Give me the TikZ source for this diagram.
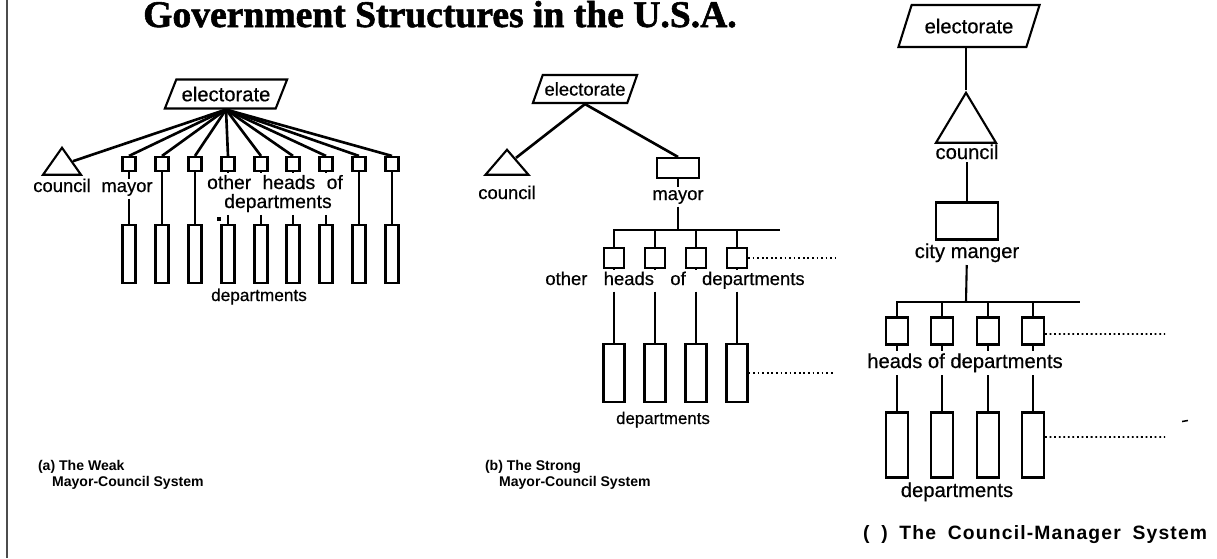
\documentclass[tikz,border=0pt]{standalone}
\usepackage{fontspec}
\setmainfont{Liberation Sans}
\newfontfamily\labelfont{Liberation Sans}[FakeBold=0.5]
\newfontfamily\capfont{Liberation Sans Bold}
\newfontfamily\capwidefont{Liberation Sans Bold}[LetterSpace=6, WordSpace=1.8]
\newfontfamily\titlefont{Liberation Serif Bold}[FakeBold=1.5]
\usetikzlibrary{shapes.geometric}

\tikzset{
  electbox/.style={draw, trapezium, trapezium left angle=60,
    trapezium right angle=120, trapezium stretches=true, inner sep=1pt},
  councilbox/.style={draw, isosceles triangle, shape border rotate=90,
    isosceles triangle stretches=true, inner sep=0pt, anchor=apex},
  headbox/.style={draw, rectangle, inner sep=0pt},
  deptbox/.style={draw, rectangle, inner sep=0pt},
  txt/.style={inner sep=1pt, anchor=base, font=\labelfont\fontsize{10.5}{12}\selectfont},
  txtc/.style={inner sep=1pt, anchor=base, font=\labelfont\fontsize{11.5}{13}\selectfont},
  capt/.style={inner sep=0pt, align=left, font=\capfont\fontsize{8}{9}\selectfont},
  fan/.style={line width=1.5pt},
  etc/.style={line width=1pt, dash pattern=on 1pt off 1.6pt},
}

\begin{document}
\begin{tikzpicture}[x=0.02cm, y=-0.02cm, line width=1.2pt]
  \useasboundingbox (0,0) rectangle (1217,558);
  \draw[line width=0.8pt, black!70] (7,0) -- (7,558);
  \node[font=\titlefont\fontsize{21.4}{24}\selectfont, anchor=base] (title) at (440,27) {Government Structures in the U.S.A.};

  % (a) the weak mayor-council system
  \node[electbox, font=\labelfont\fontsize{11.5}{13}\selectfont, minimum width=2.46cm, minimum height=0.58cm] (ea) at (226,94) {electorate};
  \node[councilbox, minimum width=0.76cm, minimum height=0.54cm] (ta) at (62,145) {};
  \node[headbox, minimum width=0.26cm, minimum height=0.28cm] (sa1) at (129,164) {};
  \node[headbox, minimum width=0.26cm, minimum height=0.28cm] (sa2) at (162,164) {};
  \node[headbox, minimum width=0.26cm, minimum height=0.28cm] (sa3) at (195,164) {};
  \node[headbox, minimum width=0.26cm, minimum height=0.28cm] (sa4) at (228,164) {};
  \node[headbox, minimum width=0.26cm, minimum height=0.28cm] (sa5) at (261,164) {};
  \node[headbox, minimum width=0.26cm, minimum height=0.28cm] (sa6) at (293,164) {};
  \node[headbox, minimum width=0.26cm, minimum height=0.28cm] (sa7) at (326,164) {};
  \node[headbox, minimum width=0.26cm, minimum height=0.28cm] (sa8) at (359,164) {};
  \node[headbox, minimum width=0.26cm, minimum height=0.28cm] (sa9) at (392,164) {};
  \node[deptbox, minimum width=0.26cm, minimum height=1.16cm] (ra1) at (129,254) {};
  \node[deptbox, minimum width=0.26cm, minimum height=1.16cm] (ra2) at (162,254) {};
  \node[deptbox, minimum width=0.26cm, minimum height=1.16cm] (ra3) at (195,254) {};
  \node[deptbox, minimum width=0.26cm, minimum height=1.16cm] (ra4) at (228,254) {};
  \node[deptbox, minimum width=0.26cm, minimum height=1.16cm] (ra5) at (261,254) {};
  \node[deptbox, minimum width=0.26cm, minimum height=1.16cm] (ra6) at (293,254) {};
  \node[deptbox, minimum width=0.26cm, minimum height=1.16cm] (ra7) at (326,254) {};
  \node[deptbox, minimum width=0.26cm, minimum height=1.16cm] (ra8) at (359,254) {};
  \node[deptbox, minimum width=0.26cm, minimum height=1.16cm] (ra9) at (392,254) {};
  \node[txt] (lca) at (62,192) {council};
  \node[txt] (lma) at (127,192) {mayor};
  \node[txt, inner sep=0pt, font=\labelfont\fontsize{11}{12}\selectfont] (loa1) at (275,189) {other\hspace{6.5pt}heads\hspace{6.5pt}of};
  \node[txt, inner sep=0pt, font=\labelfont\fontsize{11}{12}\selectfont] (loa2) at (278,208) {departments};
  \node[txt, font=\labelfont\fontsize{9.8}{12}\selectfont] (lda) at (259,301) {departments};
  \node[fill, inner sep=0pt, minimum size=0.08cm] (spot) at (219,219) {};
  \node[capt, anchor=north west] (capa) at (37,459) {(a) The Weak\\\hspace*{8pt}Mayor-Council System};

  \draw[fan] (ea.south) -- (ta);
  \draw[fan] (ea.south) -- (sa1.north);
  \draw[fan] (ea.south) -- (sa2.north);
  \draw[fan] (ea.south) -- (sa3.north);
  \draw[fan] (ea.south) -- (sa4.north);
  \draw[fan] (ea.south) -- (sa5.north);
  \draw[fan] (ea.south) -- (sa6.north);
  \draw[fan] (ea.south) -- (sa7.north);
  \draw[fan] (ea.south) -- (sa8.north);
  \draw[fan] (ea.south) -- (sa9.north);
  \draw (sa1) -- (sa1 |- lma.north);
  \draw (sa1 |- lma.south) -- (ra1);
  \draw (sa2) -- (ra2);
  \draw (sa3) -- (ra3);
  \draw (sa4) -- ([yshift=1pt]sa4 |- loa1.north);
  \draw (sa5) -- ([yshift=1pt]sa5 |- loa1.north);
  \draw (sa6) -- ([yshift=1pt]sa6 |- loa1.north);
  \draw (sa7) -- ([yshift=1pt]sa7 |- loa1.north);
  \draw ([yshift=-1pt]sa4 |- loa2.south) -- (ra4);
  \draw ([yshift=-1pt]sa5 |- loa2.south) -- (ra5);
  \draw ([yshift=-1pt]sa6 |- loa2.south) -- (ra6);
  \draw ([yshift=-1pt]sa7 |- loa2.south) -- (ra7);
  \draw (sa8) -- (ra8);
  \draw (sa9) -- (ra9);

  % (b) the strong mayor-council system
  \node[electbox, font=\labelfont\fontsize{10.5}{12}\selectfont, minimum width=1.96cm, minimum height=0.56cm] (eb) at (585,89) {electorate};
  \node[councilbox, minimum width=0.86cm, minimum height=0.5cm] (tb) at (507,147) {};
  \node[headbox, minimum width=0.84cm, minimum height=0.4cm] (mb) at (678,168) {};
  \node[txt] (lcb) at (507,199) {council};
  \node[txt] (lmb) at (678,200) {mayor};
  \coordinate (bb) at (678,230);
  \coordinate (bbe) at (780,230);
  \node[headbox, minimum size=0.4cm] (hb1) at (614,258) {};
  \node[headbox, minimum size=0.4cm] (hb2) at (655,258) {};
  \node[headbox, minimum size=0.4cm] (hb3) at (696,258) {};
  \node[headbox, minimum size=0.4cm] (hb4) at (737,258) {};
  \coordinate (hbx) at (835,258);
  \node[txt] (lhb) at (675,285) {other\hspace{9.3pt}heads\hspace{9.3pt}of\hspace{9.3pt}departments};
  \node[deptbox, minimum width=0.42cm, minimum height=1.16cm] (db1) at (614,373) {};
  \node[deptbox, minimum width=0.42cm, minimum height=1.16cm] (db2) at (655,373) {};
  \node[deptbox, minimum width=0.42cm, minimum height=1.16cm] (db3) at (696,373) {};
  \node[deptbox, minimum width=0.42cm, minimum height=1.16cm] (db4) at (737,373) {};
  \coordinate (dbx) at (835,373);
  \node[txt, font=\labelfont\fontsize{9.6}{12}\selectfont] (ldb) at (663,424) {departments};
  \node[capt, anchor=north west] (capb) at (484,459) {(b) The Strong\\\hspace*{8pt}Mayor-Council System};

  \draw[fan] (eb.south) -- (tb);
  \draw[fan] (eb.south) -- (mb.north);
  \draw (mb) -- (mb |- lmb.north);
  \draw (lmb) -- (bb);
  \draw (hb1.north) |- (bbe);
  \draw (hb2.north) -- (hb2 |- bb);
  \draw (hb3.north) -- (hb3 |- bb);
  \draw (hb4.north) -- (hb4 |- bb);
  \draw (hb1) -- (hb1 |- lhb.north);
  \draw (hb2) -- (hb2 |- lhb.north);
  \draw (hb3) -- (hb3 |- lhb.north);
  \draw (hb4) -- (hb4 |- lhb.north);
  \draw (db1 |- lhb.south) -- (db1);
  \draw (db2 |- lhb.south) -- (db2);
  \draw (db3 |- lhb.south) -- (db3);
  \draw (db4 |- lhb.south) -- (db4);
  \draw[etc] (hb4.east) -- (hbx);
  \draw[etc] (db4.east) -- (dbx);

  % (c) the council-manager system
  \node[electbox, font=\labelfont\fontsize{11.5}{13}\selectfont, minimum width=2.84cm, minimum height=0.84cm] (ec) at (969,26) {electorate};
  \node[councilbox, minimum width=1.2cm, minimum height=1cm] (tc) at (966,90) {};
  \node[txtc] (lcc) at (967,159) {council};
  \node[headbox, minimum width=1.24cm, minimum height=0.74cm] (cm) at (967,221) {};
  \node[txtc] (lcm) at (967,258) {city manger};
  \coordinate (bc) at (966,302);
  \coordinate (bce) at (1080,302);
  \node[headbox, minimum width=0.44cm, minimum height=0.54cm] (hc1) at (897,331) {};
  \node[headbox, minimum width=0.44cm, minimum height=0.54cm] (hc2) at (942,331) {};
  \node[headbox, minimum width=0.44cm, minimum height=0.54cm] (hc3) at (988,331) {};
  \node[headbox, minimum width=0.44cm, minimum height=0.54cm] (hc4) at (1033,331) {};
  \coordinate (hcx) at (1165,334);
  \node[txtc] (lhc) at (965,368) {heads of departments};
  \node[deptbox, minimum width=0.44cm, minimum height=1.3cm] (dc1) at (897,445) {};
  \node[deptbox, minimum width=0.44cm, minimum height=1.3cm] (dc2) at (942,445) {};
  \node[deptbox, minimum width=0.44cm, minimum height=1.3cm] (dc3) at (988,445) {};
  \node[deptbox, minimum width=0.44cm, minimum height=1.3cm] (dc4) at (1033,445) {};
  \coordinate (dcx) at (1165,437);
  \node[txtc] (ldc) at (957,497) {departments};
  \node[fill, inner sep=0pt, minimum width=0.12cm, minimum height=0.03cm, rotate=10] (flick) at (1185,421) {};
  \node[capt, font=\capwidefont\fontsize{11}{12}\selectfont, anchor=west] (capc) at (862,535) {( ) The Council-Manager System};

  \draw (tc.apex |- ec.south) -- (tc.apex);
  \draw (tc) -- (tc |- lcc.north);
  \draw (lcc) -- (cm);
  \draw (cm) -- (cm |- lcm.north);
  \draw (lcm) -- (bc);
  \draw (hc1.north) |- (bce);
  \draw (hc2.north) -- (hc2 |- bc);
  \draw (hc3.north) -- (hc3 |- bc);
  \draw (hc4.north) -- (hc4 |- bc);
  \draw (hc1) -- (hc1 |- lhc.north);
  \draw (hc2) -- (hc2 |- lhc.north);
  \draw (hc3) -- (hc3 |- lhc.north);
  \draw (hc4) -- (hc4 |- lhc.north);
  \draw (dc1 |- lhc.south) -- (dc1);
  \draw (dc2 |- lhc.south) -- (dc2);
  \draw (dc3 |- lhc.south) -- (dc3);
  \draw (dc4 |- lhc.south) -- (dc4);
  \draw[etc] ([yshift=-0.06cm]hc4.east) -- (hcx);
  \draw[etc] ([yshift=0.16cm]dc4.east) -- (dcx);
\end{tikzpicture}
\end{document}
